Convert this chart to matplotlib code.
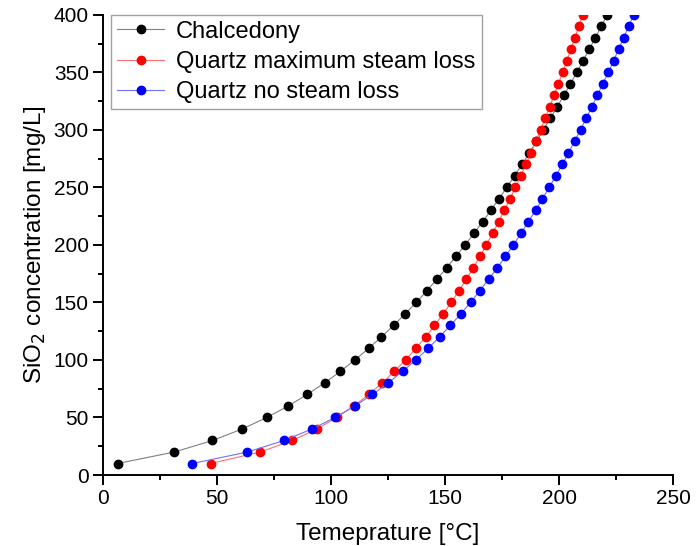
import matplotlib.pyplot as plt
from matplotlib.ticker import MultipleLocator

plt.rcParams['font.family'] = ['Liberation Sans', 'DejaVu Sans']

# SiO2 concentration, mg/L (same for all three curves)
sio2 = [10, 20, 30, 40, 50, 60, 70, 80, 90, 100,
        110, 120, 130, 140, 150, 160, 170, 180, 190, 200,
        210, 220, 230, 240, 250, 260, 270, 280, 290, 300,
        310, 320, 330, 340, 350, 360, 370, 380, 390, 400]

# temperatures, deg C
t_chalcedony = [6.5, 31.4, 48.1, 61.1, 71.9, 81.3, 89.6, 97.2, 104.1, 110.5,
                116.5, 122.1, 127.5, 132.5, 137.4, 142.0, 146.4, 150.7, 154.8, 158.8,
                162.7, 166.5, 170.1, 173.6, 177.1, 180.5, 183.8, 187.0, 190.1, 193.2,
                196.2, 199.2, 202.1, 205.0, 207.8, 210.5, 213.2, 215.9, 218.5, 221.1]
t_quartz_max = [47.3, 69.0, 83.1, 93.8, 102.6, 110.0, 116.6, 122.5, 127.8, 132.7,
                137.2, 141.5, 145.4, 149.2, 152.7, 156.1, 159.3, 162.4, 165.3, 168.1,
                170.9, 173.5, 176.0, 178.5, 180.9, 183.2, 185.5, 187.7, 189.8, 191.9,
                193.9, 195.9, 197.8, 199.7, 201.6, 203.4, 205.2, 206.9, 208.7, 210.3]
t_quartz_none = [39.3, 63.4, 79.4, 91.7, 101.8, 110.5, 118.2, 125.1, 131.4, 137.2,
                 142.6, 147.6, 152.4, 156.9, 161.2, 165.2, 169.1, 172.9, 176.5, 180.0,
                 183.3, 186.5, 189.7, 192.7, 195.7, 198.6, 201.4, 204.1, 206.8, 209.4,
                 211.9, 214.4, 216.8, 219.2, 221.6, 223.9, 226.1, 228.3, 230.5, 232.7]

series = [
    ("Chalcedony", t_chalcedony, "black", "#808080"),
    ("Quartz maximum steam loss", t_quartz_max, "red", "#ff7070"),
    ("Quartz no steam loss", t_quartz_none, "blue", "#7070ff"),
]

fig = plt.figure(figsize=(6.99, 5.46), dpi=100)
ax = fig.add_axes([0.147, 0.130, 0.816, 0.843])

for name, temps, mcol, lcol in series:
    ax.plot(temps, sio2, color=lcol, lw=0.8, marker="o", ms=6,
            mfc=mcol, mec=mcol, label=name)

ax.set_xlim(0, 250)
ax.set_ylim(0, 400)
ax.xaxis.set_major_locator(MultipleLocator(50))
ax.xaxis.set_minor_locator(MultipleLocator(25))
ax.yaxis.set_major_locator(MultipleLocator(50))
ax.yaxis.set_minor_locator(MultipleLocator(25))

ax.spines['top'].set_visible(False)
ax.spines['right'].set_visible(False)
for s in ('left', 'bottom'):
    ax.spines[s].set_linewidth(1.4)
ax.tick_params(which='major', direction='out', length=7, width=1.4,
               labelsize=15, pad=3)
ax.tick_params(which='minor', direction='out', length=3.5, width=1.4)

ax.set_xlabel("Temeprature [°C]", fontsize=17.5, labelpad=11)
ax.set_ylabel("SiO$_2$ concentration [mg/L]", fontsize=17.5, labelpad=4)

leg = ax.legend(loc='upper left', fontsize=17, frameon=True, fancybox=False,
                borderaxespad=0.0, handlelength=2.0, handletextpad=0.5,
                labelspacing=0.35, borderpad=0.25,
                bbox_to_anchor=(0.015, 1.0))
leg.get_frame().set_edgecolor('#888888')
leg.get_frame().set_linewidth(1.0)

fig.savefig("out.png", dpi=100)
